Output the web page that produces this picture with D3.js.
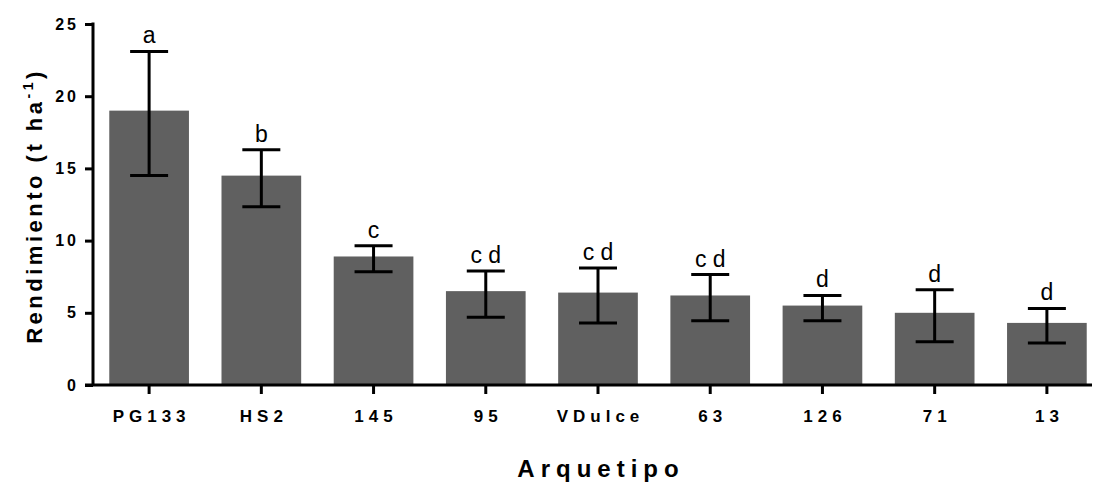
<!DOCTYPE html>
<html>
<head>
<meta charset="utf-8">
<script src="https://cdn.jsdelivr.net/npm/d3@7"></script>
<style>
  body { margin: 0; background: #fff; }
  text { font-family: "Liberation Sans", Arial, sans-serif; }
</style>
</head>
<body>
<script>
let width = 1094;
let height = 483;

// data
let categories = ["PG133", "HS2", "145", "95", "VDulce", "63", "126", "71", "13"];
let means = [19.0, 14.5, 8.9, 6.5, 6.4, 6.2, 5.5, 5.0, 4.3];
let errHigh = [23.1, 16.3, 9.65, 7.9, 8.1, 7.65, 6.2, 6.6, 5.3];
let errLow = [14.5, 12.35, 7.85, 4.7, 4.3, 4.45, 4.45, 3.0, 2.9];
let letters = ["a", "b", "c", "c d", "c d", "c d", "d", "d", "d"];
let yTicks = [0, 5, 10, 15, 20, 25];

let dataArray = categories.map(function(c, i){
    return {cat: c, mean: means[i], hi: errHigh[i], lo: errLow[i], letter: letters[i]};
});

let svg = d3.select("body").append("svg")
    .attr("width", width)
    .attr("height", height);

let x = d3.scaleBand()
    .domain(categories)
    .range([93, 1103])
    .paddingInner(0.29)
    .paddingOuter(0.145);

let y = d3.scaleLinear()
    .domain([0, 25])
    .range([385, 24]);

let chartGroup = svg.append("g").attr("class", "chartGroup");

// bars
chartGroup.selectAll("rect.bar")
    .data(dataArray)
    .enter()
    .append("rect")
        .attr("class", "bar")
        .attr("x", function(d){ return x(d.cat); })
        .attr("y", function(d){ return y(d.mean); })
        .attr("width", x.bandwidth())
        .attr("height", function(d){ return y(0) - y(d.mean); })
        .attr("fill", "#606060")
;

// error bars
let capW = 19;
let err = chartGroup.selectAll("g.err")
    .data(dataArray)
    .enter()
    .append("g")
        .attr("class", "err")
        .attr("stroke", "#000")
        .attr("stroke-width", 3);
err.append("line")
    .attr("x1", function(d){ return x(d.cat) + x.bandwidth()/2; })
    .attr("x2", function(d){ return x(d.cat) + x.bandwidth()/2; })
    .attr("y1", function(d){ return y(d.hi); })
    .attr("y2", function(d){ return y(d.lo); });
err.append("line")
    .attr("x1", function(d){ return x(d.cat) + x.bandwidth()/2 - capW; })
    .attr("x2", function(d){ return x(d.cat) + x.bandwidth()/2 + capW; })
    .attr("y1", function(d){ return y(d.hi); })
    .attr("y2", function(d){ return y(d.hi); });
err.append("line")
    .attr("x1", function(d){ return x(d.cat) + x.bandwidth()/2 - capW; })
    .attr("x2", function(d){ return x(d.cat) + x.bandwidth()/2 + capW; })
    .attr("y1", function(d){ return y(d.lo); })
    .attr("y2", function(d){ return y(d.lo); });

// significance letters
chartGroup.selectAll("text.letter")
    .data(dataArray)
    .enter()
    .append("text")
        .attr("class", "letter")
        .attr("x", function(d){ return x(d.cat) + x.bandwidth()/2; })
        .attr("y", function(d){ return y(d.hi) - 8; })
        .attr("text-anchor", "middle")
        .attr("font-size", 23)
        .attr("fill", "#000")
        .text(function(d){ return d.letter; })
;

// y axis
let yAxis = svg.append("g")
    .attr("transform", "translate(93,0)")
    .call(d3.axisLeft(y).tickValues(yTicks).tickSize(8).tickPadding(6));
yAxis.select(".domain").attr("stroke-width", 3).attr("d", "M0," + (y(25) - 1.5) + "V" + y(0));
yAxis.selectAll(".tick line").attr("stroke-width", 3);
yAxis.selectAll(".tick text")
    .attr("font-size", 16)
    .attr("font-weight", "bold")
    .attr("letter-spacing", 3)
    .attr("fill", "#000");

// x axis
let xAxis = svg.append("g")
    .attr("transform", "translate(0,385)")
    .call(d3.axisBottom(x).tickSize(9).tickPadding(16));
xAxis.select(".domain").attr("stroke-width", 3).attr("d", "M85,0H1092");
xAxis.selectAll(".tick line").attr("stroke-width", 3);
xAxis.selectAll(".tick text")
    .attr("font-size", 17)
    .attr("font-weight", "bold")
    .attr("letter-spacing", 5)
    .attr("dx", 2.5)
    .attr("fill", "#000");

// axis titles
let yTitle = svg.append("text")
    .attr("transform", "translate(42,206) rotate(-90)")
    .attr("text-anchor", "middle")
    .attr("font-size", 22)
    .attr("font-weight", "bold")
    .attr("letter-spacing", 3.5);
yTitle.append("tspan").text("Rendimiento (t ha");
yTitle.append("tspan").attr("dy", -9).attr("font-size", 14).text("-1");
yTitle.append("tspan").attr("dy", 9).text(")");

svg.append("text")
    .attr("x", 601)
    .attr("y", 477)
    .attr("text-anchor", "middle")
    .attr("font-size", 24)
    .attr("font-weight", "bold")
    .attr("letter-spacing", 6)
    .text("Arquetipo");
</script>
</body>
</html>
